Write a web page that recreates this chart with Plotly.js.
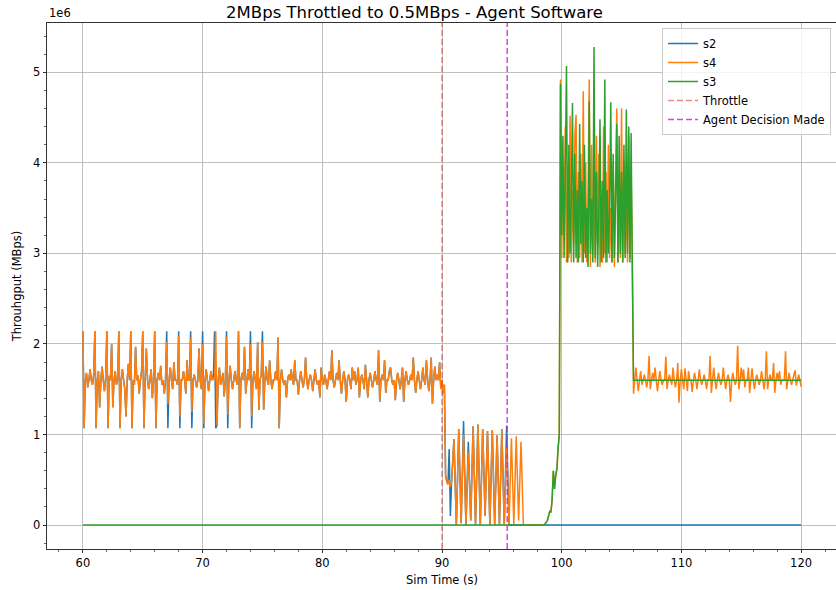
<!DOCTYPE html>
<html><head><meta charset="utf-8">
<script src="https://cdn.plot.ly/plotly-3.0.1.min.js"></script>
<style>html,body{margin:0;padding:0;overflow:hidden;background:#fff}#chart{width:837px;height:590px}</style>
</head><body><div id="chart"></div>
<script>
// Values in units of 1e6 (MBps axis uses the 1e6 multiplier)
// ---- s4 (orange) ----
const s4_A_t0 = 60.0; // 60.0 .. 90.0 every 0.1 s
const s4_A = [
2.14,1.07,1.6,1.68,1.52,1.6,1.72,1.6,1.55,1.66,
2.14,1.07,1.6,1.7,1.3,1.6,1.75,1.6,1.48,1.62,
2.14,1.07,1.65,1.6,2.0,1.3,1.6,1.7,1.55,1.6,
2.14,1.07,1.6,1.72,1.6,1.5,1.2,1.6,1.78,1.6,
2.14,1.07,1.6,1.55,1.97,1.6,1.65,1.45,1.6,1.7,
2.14,1.07,1.6,1.95,1.6,1.5,1.6,1.72,1.4,1.6,
2.14,1.07,1.6,1.68,1.6,1.76,1.55,1.6,1.45,1.6,
2.02,1.34,1.6,1.74,1.6,1.5,1.8,1.6,1.6,1.55,
2.09,1.2,1.6,1.6,1.7,1.6,1.45,1.82,1.6,1.6,
2.07,1.25,1.6,1.66,1.6,1.52,1.6,1.95,1.6,1.5,
2.0,1.12,1.6,1.72,1.6,1.48,1.6,1.7,1.6,1.62,
1.6,2.14,1.1,1.6,1.74,1.55,1.6,1.68,1.42,1.6,
2.08,1.22,1.6,1.76,1.6,1.5,1.6,1.7,1.6,1.55,
2.14,1.07,1.6,1.68,1.6,1.97,1.45,1.6,1.72,1.6,
2.0,1.2,1.6,1.7,1.6,1.5,2.02,1.27,1.6,1.66,
2.02,1.27,1.6,1.75,1.6,1.55,1.82,1.6,1.5,1.6,
1.6,1.7,1.6,2.07,1.07,1.6,1.72,1.6,1.55,1.6,
1.41,1.6,1.66,1.6,1.72,1.6,1.55,1.82,1.6,1.6,
1.44,1.6,1.7,1.6,1.52,1.6,1.85,1.6,1.5,1.6,
1.66,1.6,1.48,1.6,1.72,1.6,1.55,1.6,1.41,1.74,
1.6,1.55,1.66,1.6,1.5,1.6,1.7,1.6,1.93,1.6,
1.52,1.6,1.68,1.6,1.82,1.6,1.45,1.6,1.7,1.6,
1.36,1.6,1.66,1.6,1.5,1.74,1.6,1.7,1.55,1.6,
1.74,1.41,1.6,1.66,1.6,1.5,1.77,1.6,1.41,1.6,
1.68,1.6,1.52,1.6,1.7,1.6,1.55,1.93,1.36,1.6,
1.66,1.6,1.82,1.46,1.6,1.6,1.7,1.74,1.6,1.55,
1.6,1.38,1.6,1.68,1.6,1.5,1.6,1.74,1.36,1.6,
1.7,1.6,1.55,1.6,1.66,1.6,1.85,1.6,1.46,1.6,
1.7,1.6,1.5,1.6,1.74,1.6,1.55,1.82,1.6,1.48,
1.6,1.85,1.34,1.6,1.75,1.6,1.66,1.6,1.8,1.5,
1.6];
const s4_B_t0 = 90.1; // every 0.1 s
const s4_B = [1.45,1.55,0.55,0.48,0.45,0.5,0.42,0.48];
const s4_C_t0 = 91.0; // every 0.2 s
const s4_C = [0.95,0,1.06,0.02,1.0,0,0.8,0.05,1.09,0,1.11,0,1.06,0.1,1.04,0,1.05,0,0.99,0,1.06,0,0.85,0,0.96,0,0.98,0.05,0.92,0];
const s4_D_t0 = 98.4; // every 0.1 s
const s4_D = [0,0.005,0.01,0.03,0.05,0.1,0.15,0.14,0.28,0.6,0.4,0.55,0.62,0.85,1.0,
4.92,
2.95,4.0,3.2,4.4,2.9,3.8,2.95,4.52,2.9,3.7,
3.1,4.3,4.53,2.9,3.9,2.95,4.1,2.9,4.79,3.0,
4.0,2.9,3.6,4.92,2.85,4.2,3.0,3.8,2.9,4.3,
3.1,4.1,2.85,3.6,2.9,4.4,3.0,3.9,2.9,4.2,
2.95,3.5,2.9,4.0,2.85,3.7,4.6,2.9,3.8,2.95,
4.6,2.9,4.0,3.0,3.6,2.9,4.3,2.95,3.9,2.9,
1.45,
1.6,1.74,1.6,1.48,1.6,1.7,1.55,1.6,1.66,
1.6,1.52,1.6,1.87,1.5,1.6,1.68,1.6,1.74,1.6,
1.48,1.6,1.7,1.6,1.55,1.6,1.6,1.86,1.5,1.6,
1.66,1.6,1.55,1.74,1.6,1.52,1.6,1.79,1.35,1.6,
1.72,1.6,1.5,1.73,1.6,1.48,1.7,1.6,1.6,1.47,
1.6,1.68,1.6,1.5,1.6,1.72,1.6,1.55,1.6,1.66,
1.6,1.5,1.6,1.6,1.87,1.46,1.6,1.74,1.6,1.5,
1.6,1.68,1.6,1.55,1.6,1.74,1.6,1.5,1.6,1.66,
1.6,1.36,1.6,1.68,1.6,1.55,1.6,1.98,1.5,1.6,
1.74,1.6,1.72,1.52,1.6,1.6,1.74,1.46,1.6,1.73,
1.6,1.5,1.6,1.66,1.6,1.55,1.6,1.7,1.6,1.5,
1.6,1.92,1.5,1.6,1.66,1.6,1.6,1.79,1.46,1.6,
1.68,1.6,1.7,1.55,1.6,1.6,1.6,1.92,1.5,1.6,
1.68,1.6,1.55,1.6,1.66,1.71,1.54,1.6,1.66,1.6,
1.53];

// ---- s2 (blue) ----
const s2_A_t0 = 60.0;
const s2_A = [
2.14,1.07,1.6,1.68,1.52,1.6,1.72,1.6,1.55,1.66,
2.14,1.07,1.6,1.7,1.3,1.6,1.75,1.6,1.48,1.62,
2.14,1.07,1.65,1.6,2.0,1.3,1.6,1.7,1.55,1.6,
2.14,1.07,1.6,1.72,1.6,1.5,1.2,1.6,1.78,1.6,
2.14,1.07,1.6,1.55,1.97,1.6,1.65,1.45,1.6,1.7,
2.14,1.07,1.6,1.95,1.6,1.5,1.6,1.72,1.4,1.6,
2.14,1.07,1.6,1.68,1.6,1.76,1.55,1.6,1.45,1.6,
2.14,1.07,1.6,1.74,1.6,1.5,1.8,1.6,1.6,1.55,
2.14,1.07,1.6,1.6,1.7,1.6,1.45,1.82,1.6,1.6,
2.14,1.07,1.6,1.66,1.6,1.52,1.6,1.95,1.6,1.5,
2.14,1.07,1.6,1.72,1.6,1.48,1.6,1.7,1.6,1.62,
2.14,1.07,1.1,1.6,1.74,1.55,1.6,1.68,1.42,1.6,
2.14,1.07,1.6,1.76,1.6,1.5,1.6,1.7,1.6,1.55,
2.14,1.07,1.6,1.68,1.6,1.97,1.45,1.6,1.72,1.6,
2.14,1.07,1.6,1.7,1.6,1.5,2.02,1.27,1.6,1.66,
2.14,1.27,1.6,1.75,1.6,1.55,1.82,1.6,1.5,1.6,
1.6,1.7,1.6,2.07,1.07,1.6,1.72,1.6,1.55,1.6,
1.41,1.6,1.66,1.6,1.72,1.6,1.55,1.82,1.6,1.6,
1.44,1.6,1.7,1.6,1.52,1.6,1.85,1.6,1.5,1.6,
1.66,1.6,1.48,1.6,1.72,1.6,1.55,1.6,1.41,1.74,
1.6,1.55,1.66,1.6,1.5,1.6,1.7,1.6,1.93,1.6,
1.52,1.6,1.68,1.6,1.82,1.6,1.45,1.6,1.7,1.6,
1.36,1.6,1.66,1.6,1.5,1.74,1.6,1.7,1.55,1.6,
1.74,1.41,1.6,1.66,1.6,1.5,1.77,1.6,1.41,1.6,
1.68,1.6,1.52,1.6,1.7,1.6,1.55,1.93,1.36,1.6,
1.66,1.6,1.82,1.46,1.6,1.6,1.7,1.74,1.6,1.55,
1.6,1.38,1.6,1.68,1.6,1.5,1.6,1.74,1.36,1.6,
1.7,1.6,1.55,1.6,1.66,1.6,1.85,1.6,1.46,1.6,
1.7,1.6,1.5,1.6,1.74,1.6,1.55,1.82,1.6,1.48,
1.6,1.85,1.34,1.6,1.75,1.6,1.66,1.6,1.8,1.5,
1.6];
const s2_B_t0 = 90.1;
const s2_B = [1.45,1.55,0.55,0.48,0.45,0.84,0.1,0.48];
const s2_C_t0 = 91.0; // every 0.2 s
const s2_C = [0.95,0,1.06,0.02,1.15,0,0.92,0.05,1.09,0,1.11,0,1.06,0.1,1.04,0,1.05,0,0.99,0,1.06,0,1.1,0];
const s2_endT = [120], s2_endY = [0];

// ---- s3 (green) ----
const s3_startT = [60, 98.4], s3_startY = [0, 0];
const s3_D_t0 = 98.5; // every 0.1 s
const s3_D = [0.005,0.01,0.03,0.05,0.1,0.15,0.14,0.28,0.6,0.4,0.55,0.62,0.85,1.0,
4.87,
3.2,4.3,2.95,3.9,5.07,2.9,4.2,3.0,3.6,4.66,
2.9,4.1,2.95,3.7,2.9,4.43,3.1,3.8,2.9,4.2,
2.95,3.5,2.85,4.68,3.0,3.6,2.9,5.28,2.95,3.9,
2.85,3.4,4.48,2.9,3.8,2.95,4.92,2.9,3.7,3.0,
3.5,4.67,2.9,4.1,2.95,3.6,4.43,2.9,4.3,3.0,
3.9,2.9,4.2,2.95,4.59,3.0,4.4,2.9,4.33,2.85,
1.6];
const s3_endT = [120], s3_endY = [1.6];

const throttleTime = 90.0;
const decisionTime = 95.45;

function grid(t0, dt, ys) { return ys.map((_, i) => +(t0 + i * dt).toFixed(2)); }
function build(parts) {
  const x = [], y = [];
  parts.forEach(p => { x.push(...p[0]); y.push(...p[1]); });
  return {x, y};
}
const S2 = build([[grid(s2_A_t0,0.1,s2_A), s2_A],[grid(s2_B_t0,0.1,s2_B), s2_B],[grid(s2_C_t0,0.2,s2_C), s2_C],[s2_endT, s2_endY]]);
const S4 = build([[grid(s4_A_t0,0.1,s4_A), s4_A],[grid(s4_B_t0,0.1,s4_B), s4_B],[grid(s4_C_t0,0.2,s4_C), s4_C],[grid(s4_D_t0,0.1,s4_D), s4_D]]);
const S3 = build([[s3_startT, s3_startY],[grid(s3_D_t0,0.1,s3_D), s3_D],[s3_endT, s3_endY]]);

const allY = S2.y.concat(S4.y, S3.y);
const yMin = Math.min(...allY), yMax = Math.max(...allY);
const yPad = 0.05 * (yMax - yMin);
const yRange = [yMin - yPad, yMax + yPad];
const allX = S2.x.concat(S4.x, S3.x);
const xMin = Math.min(...allX), xMax = Math.max(...allX);
const xPad = 0.05 * (xMax - xMin);
const xRange = [xMin - xPad, xMax + xPad];

const F = 'DejaVu Sans, sans-serif';
const lw = 1.5;
const traces = [
  {x:S2.x, y:S2.y, name:'s2', mode:'lines', line:{color:'#1f77b4', width:lw, simplify:false}},
  {x:S4.x, y:S4.y, name:'s4', mode:'lines', line:{color:'#ff7f0e', width:lw, simplify:false}},
  {x:S3.x, y:S3.y, name:'s3', mode:'lines', line:{color:'#2ca02c', width:lw, simplify:false}},
  {x:[throttleTime, throttleTime], y:yRange, name:'Throttle', mode:'lines', line:{color:'rgba(225,40,40,0.55)', width:lw, dash:'6px,3px'}},
  {x:[decisionTime, decisionTime], y:yRange, name:'Agent Decision Made', mode:'lines', line:{color:'rgba(205,40,205,0.85)', width:lw, dash:'6px,3px'}}
];
const axisCommon = {
  showline:true, linecolor:'#000', linewidth:0.8, mirror:true,
  ticks:'outside', ticklen:3.5, tickwidth:0.8, tickcolor:'#000',
  showgrid:true, gridcolor:'#b0b0b0', gridwidth:0.8, zeroline:false,
  tickfont:{family:F, size:11.5, color:'#000'}
};
const layout = {
  width:837, height:590,
  margin:{l:47, r:0, t:23, b:41},
  paper_bgcolor:'#fff', plot_bgcolor:'#fff',
  showlegend:true,
  title:{text:'2MBps Throttled to 0.5MBps - Agent Software', font:{family:F, size:16.5, color:'#000'},
         xref:'container', x:414.5/837, xanchor:'center', yref:'container', y:1-12/590, yanchor:'middle'},
  xaxis:Object.assign({}, axisCommon, {range:xRange, tick0:0, dtick:10,
    minor:{tick0:0, dtick:2, ticks:'outside', ticklen:2, tickwidth:0.6, tickcolor:'#000', showgrid:false},
    title:{text:'Sim Time (s)', font:{family:F, size:11.5, color:'#000'}, standoff:6}}),
  yaxis:Object.assign({}, axisCommon, {range:yRange, tick0:0, dtick:1,
    minor:{tick0:0, dtick:0.2, ticks:'outside', ticklen:2, tickwidth:0.6, tickcolor:'#000', showgrid:false},
    title:{text:'Throuhgput (MBps)', font:{family:F, size:11.5, color:'#000'}, standoff:8}}),
  legend:{x:(831-47)/790, xanchor:'right', y:(549-28)/526, yanchor:'top',
    bgcolor:'rgba(255,255,255,0.8)', bordercolor:'#cccccc', borderwidth:1,
    font:{family:F, size:11.5, color:'#000'}, itemwidth:30, tracegroupgap:0},
  annotations:[{xref:'paper', yref:'paper', x:0, y:1, xanchor:'left', yanchor:'bottom', yshift:1,
    text:'1e6', showarrow:false, font:{family:F, size:11.5, color:'#000'}}]
};
Plotly.newPlot('chart', traces, layout, {displayModeBar:false, staticPlot:true});
</script>
</body></html>
